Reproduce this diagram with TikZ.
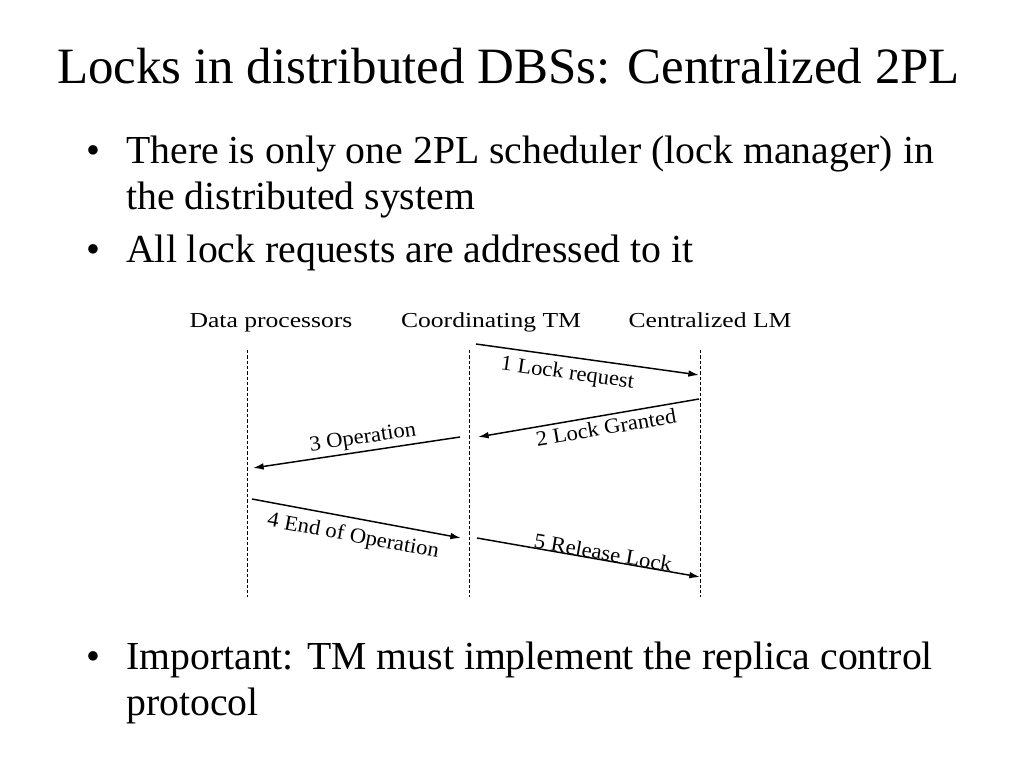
\documentclass[tikz,border=0pt]{standalone}
\usepackage{fontspec}
\setmainfont{Liberation Serif}
\newfontfamily\headfont[FakeStretch=1.2]{Liberation Serif}
\newfontfamily\msgfont[FakeStretch=1.06]{Liberation Serif}
\usetikzlibrary{arrows.meta}

\begin{document}
\begin{tikzpicture}[x=0.75pt,y=-0.75pt,
  slidetitle/.style={anchor=base west, inner sep=0pt, font=\fontsize{38.2}{44}\selectfont},
  item/.style={anchor=base west, inner sep=0pt, font=\fontsize{29.8}{34}\selectfont},
  actor/.style={anchor=base, inner sep=0pt, font=\headfont\fontsize{16}{18}\selectfont},
  msglabel/.style={sloped, inner sep=2pt, font=\msgfont\fontsize{16}{18}\selectfont},
  lifeline/.style={line width=0.6pt, dash pattern=on 2.4pt off 1.6pt},
  msgarrow/.style={line width=1.1pt, -{Latex[length=8pt,width=5pt]}}]
\def\ytop{350}
\def\ybot{597}
\def\yhead{327}

\useasboundingbox (0,0) rectangle (1024,768);

\node[slidetitle] (title) at (57,83) {Locks in distributed DBSs: Centralized 2PL};

% bullet points
\foreach \name/\y in {b1/163, b2/262, b3/669}
  \node[item] (\name) at (86,\y) {\textbullet};
\node[item] (pt1)  at (126,163) {There is only one 2PL scheduler (lock manager) in};
\node[item] (pt1b) at (126,209) {the distributed system};
\node[item] (pt2)  at (126,262) {All lock requests are addressed to it};
\node[item] (pt3)  at (126,669) {Important: TM must implement the replica control};
\node[item] (pt3b) at (126,715) {protocol};

% lifelines
\foreach \name/\x/\hx/\txt in {dp/247/271/Data processors,
                               tm/469/491/Coordinating TM,
                               lm/700/710/Centralized LM}{
  \node[actor] (\name) at (\hx,\yhead) {\txt};
  \coordinate (\name-top) at (\x,\ytop);
  \coordinate (\name-bot) at (\x,\ybot);
  \draw[lifeline] (\name-top) -- (\name-bot);
}

% messages
\coordinate (req-s) at (476,344);
\coordinate (req-e) at (699,375);
\coordinate (grant-s) at (699,399);
\coordinate (grant-e) at (478,437);
\coordinate (op-s) at (460,437);
\coordinate (op-e) at (253,468);
\coordinate (end-s) at (252,499);
\coordinate (end-e) at (461,538);
\coordinate (rel-s) at (477,538);
\coordinate (rel-e) at (700,577);

\draw[msgarrow] (req-s) -- node[msglabel, below=3pt, pos=0.42] (req) {1 Lock request} (req-e);
\draw[msgarrow] (grant-s) -- node[msglabel, below=1pt, pos=0.43] (grant) {2 Lock Granted} (grant-e);
\draw[msgarrow] (op-s) -- node[msglabel, above, pos=0.46] (op) {3 Operation} (op-e);
\draw[msgarrow] (end-s) -- node[msglabel, below=4pt, pos=0.5] (end) {4 End of Operation} (end-e);
\draw[msgarrow] (rel-s) -- node[msglabel, anchor=base, pos=0.56] (rel) {5 Release Lock} (rel-e);
\end{tikzpicture}
\end{document}
